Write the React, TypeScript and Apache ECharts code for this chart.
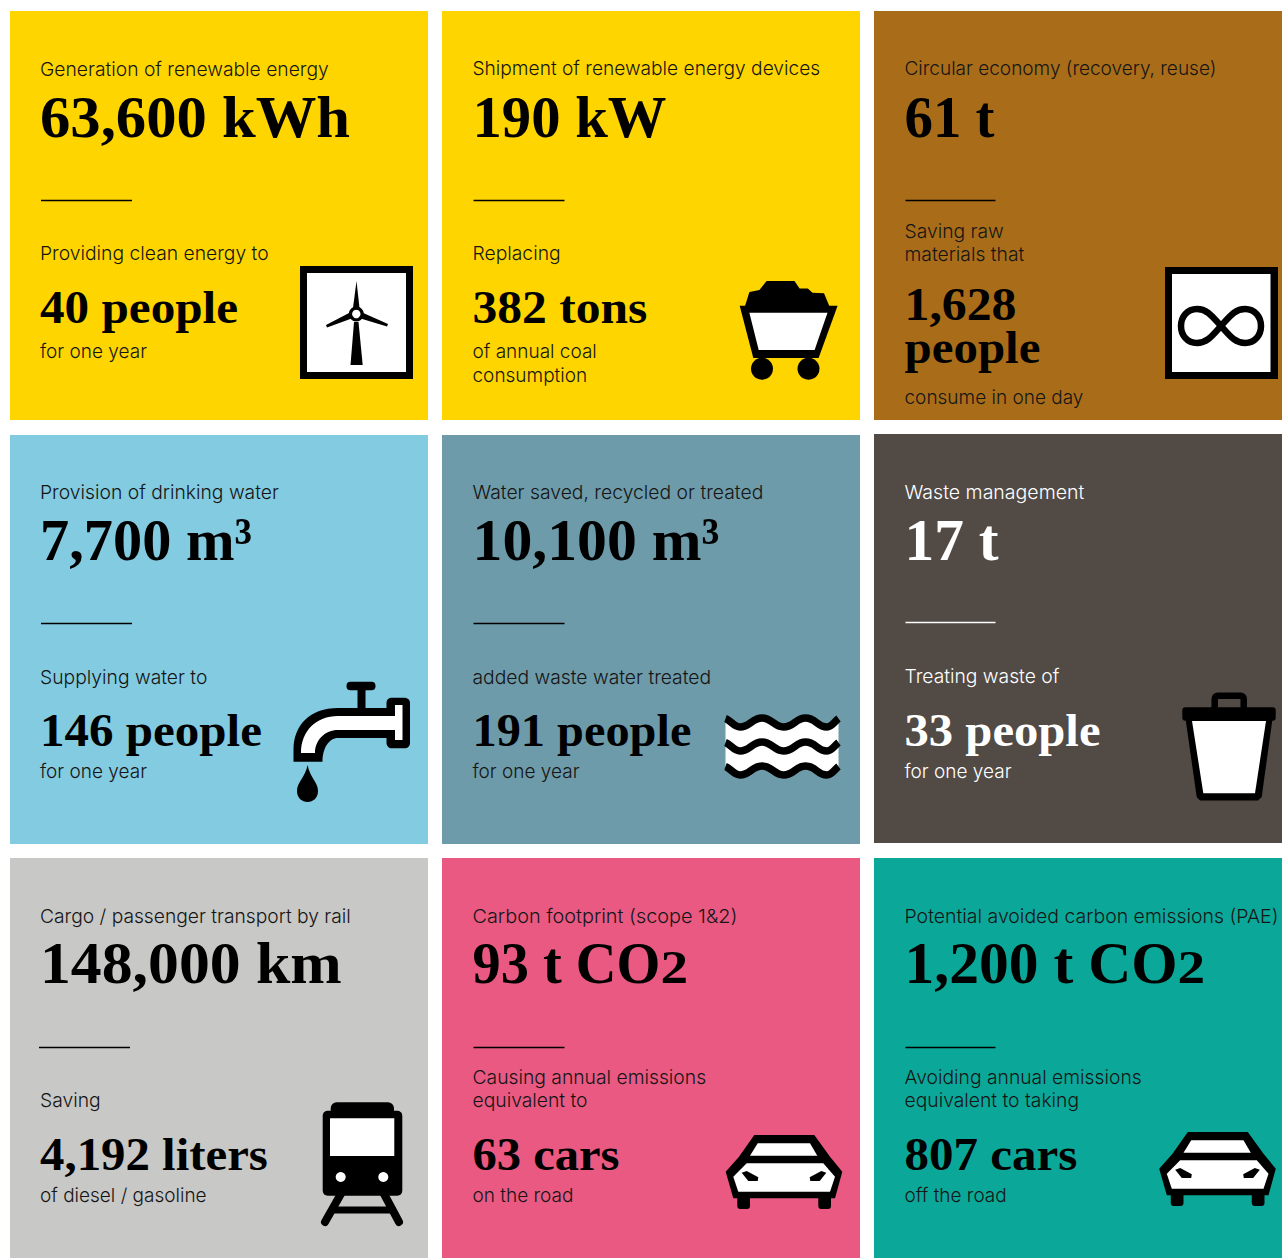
import React, { useEffect, useRef } from "react";
import * as echarts from "echarts";

// ---------- text content ----------
const titles = [
  "Generation of renewable energy", "Shipment of renewable energy devices", "Circular economy (recovery, reuse)",
  "Provision of drinking water", "Water saved, recycled or treated", "Waste management",
  "Cargo / passenger transport by rail", "Carbon footprint (scope 1&2)", "Potential avoided carbon emissions (PAE)",
];
const headlines = [
  "63,600 kWh", "190 kW", "61 t",
  "7,700 m³", "10,100 m³", "17 t",
  "148,000 km", "93 t CO2", "1,200 t CO2",
];
const leads = [
  ["Providing clean energy to"], ["Replacing"], ["Saving raw", "materials that"],
  ["Supplying water to"], ["added waste water treated"], ["Treating waste of"],
  ["Saving"], ["Causing annual emissions", "equivalent to"], ["Avoiding annual emissions", "equivalent to taking"],
];
const amounts = [
  ["40 people"], ["382 tons"], ["1,628", "people"],
  ["146 people"], ["191 people"], ["33 people"],
  ["4,192 liters"], ["63 cars"], ["807 cars"],
];
const tails = [
  ["for one year"], ["of annual coal", "consumption"], ["consume in one day"],
  ["for one year"], ["for one year"], ["for one year"],
  ["of diesel / gasoline"], ["on the road"], ["off the road"],
];

// ---------- layout and style ----------
const cardFills = ["#FFD500", "#FFD500", "#A96D1A", "#83CBE1", "#6D9BAA", "#524A45", "#C8C8C6", "#E95982", "#0BA899"];
const colX = [10, 442, 874];
const colW = [418, 418, 408];
const rowY = [11, 435, 858];
const rowH = [409, 409, 400];
const textX = [40, 472.5, 904.5];
const BODY = "Inter";
const SERIF = "Liberation Serif";
const BODY_SIZE = 19;
const LEAD_SIZE = 19.3;
const BODY_WEIGHT = 300;
// target pixel widths, used to fit the fallback fonts' proportions
const titleWidths = [289, 348, 312, 239, 291, 180, 311, 265, 374];
const headlineWidths = [310, 194, 90, 212, 247, 94, 302, 188, 273];
const amountWidths = [[198], [175], [112, 136], [222], [219], [196], [228], [147], [173]];
// y centres: title, headline, divider, last lead line, amount first, tail first
const ys = [
  [69, 116.5, 200.5, 253, 308, 351], [69, 116.5, 200.5, 253, 307.5, 351], [69, 116.5, 200.5, 254, 304, 397],
  [492, 540, 623.5, 677, 731, 771], [492, 540, 623.5, 677, 730.5, 771], [492, 540, 622.5, 676, 730.5, 771],
  [916, 963, 1047.5, 1100, 1154.5, 1195], [916, 963, 1047.5, 1100, 1154.5, 1195], [916, 963, 1047.5, 1100, 1154.5, 1195],
];

const canvasCtx = document.createElement("canvas").getContext("2d")!;
function fitScale(text: string, font: string, target: number) {
  canvasCtx.font = font;
  return target / canvasCtx.measureText(text).width;
}

// ---------- icons ----------
const tapOuter =
  "M293.5 761.7 V750 C293.5 725 310 708 338 708 H386.5 V703 C386.5 699.5 389 697.7 392 697.7 H404 C408 697.7 410 700 410 703 V743 C410 746 408 748.3 404 748.3 H392 C389 748.3 386.5 746 386.5 743 V738 H338 C329 738 322.5 748 322.5 761.7 Z";
const tapInner = "M301 753 C301 731 316 716 338 716 H395 V705 H402.5 V740 H395 V730 H338 C325 730 315 740 315 753 Z";
const tapDrop = "M307.6 765 C305 778 297 782 297 791 C297 798 302 802 307.6 802 C313 802 318 798 318 791 C318 782 310 778 307.6 765 Z";
const infinity =
  "M1221 326 C1212 316 1207 309 1197 309 C1187 309 1181 317 1181 326 C1181 335 1187 343 1197 343 C1207 343 1212 336 1221 326 C1230 316 1235 309 1245 309 C1255 309 1261 317 1261 326 C1261 335 1255 343 1245 343 C1235 343 1230 336 1221 326 Z";
const wave =
  "M725.5 718.5 C730 720 734 727 740 727 C750 727 752 718 762 718 C772 718 774 727 783.5 727 C794 727 795.5 718 805.5 718 C816 718 817 727 827 727 C832 727 835 721 838.5 718.5";
const waveFill =
  "M725.5 718.5 C730 720 734 727 740 727 C750 727 752 718 762 718 C772 718 774 727 783.5 727 C794 727 795.5 718 805.5 718 C816 718 817 727 827 727 C832 727 835 721 838.5 718.5 V766.5 C835 769 832 775 827 775 C817 775 816 766 805.5 766 C795.5 766 794 775 783.5 775 C774 775 772 766 762 766 C752 766 750 775 740 775 C734 775 730 768 725.5 766.5 Z";

echarts.graphic.registerShape("tapOuter", echarts.graphic.extendPath(tapOuter, {}));
echarts.graphic.registerShape("tapInner", echarts.graphic.extendPath(tapInner, {}));
echarts.graphic.registerShape("tapDrop", echarts.graphic.extendPath(tapDrop, {}));
echarts.graphic.registerShape("infinity", echarts.graphic.extendPath(infinity, {}));
echarts.graphic.registerShape("wave", echarts.graphic.extendPath(wave, {}));
echarts.graphic.registerShape("waveFill", echarts.graphic.extendPath(waveFill, {}));

const K = "#000";
const W = "#fff";
const rect = (x: number, y: number, w: number, h: number, fill: string, r = 0) => ({
  type: "rect", shape: { x, y, width: w, height: h, r }, style: { fill },
});
const poly = (pts: number[][], fill: string) => ({ type: "polygon", shape: { points: pts }, style: { fill } });
const circle = (cx: number, cy: number, r: number, fill: string) => ({ type: "circle", shape: { cx, cy, r }, style: { fill } });
const line = (x1: number, y1: number, x2: number, y2: number, stroke: string, lineWidth: number, lineCap = "butt") => ({
  type: "line", shape: { x1, y1, x2, y2 }, style: { stroke, lineWidth, lineCap },
});

const turbine = [
  rect(300, 266, 113, 113, K), rect(307, 273, 99, 99, W),
  poly([[353, 308], [356.5, 281], [359.5, 308]], K),
  poly([[326, 325], [351, 312], [353, 318], [327, 327.5]], K),
  poly([[388, 324], [361, 312], [359, 318], [387, 326.5]], K),
  poly([[354, 322], [358.5, 322], [362.7, 365], [350.5, 365]], K),
  circle(356.3, 314, 7.5, K), circle(356.3, 314, 4.2, W),
];
const cart = [
  poly([[745, 306], [749.4, 292], [759.4, 290], [766.6, 281], [794.5, 281], [799.6, 288.5], [807.8, 288.5], [812.5, 292.7], [824, 293.3], [829.3, 306]], K),
  poly([[739.7, 305.7], [837.6, 305.7], [818.6, 358], [753.3, 358]], K),
  poly([[749.4, 312.7], [827.5, 312.7], [814.6, 350], [758.7, 350]], W),
  circle(762, 368.7, 11, K), circle(808.5, 368.7, 11, K),
];
const infinityIcon = [
  rect(1165, 267, 113, 112, K), rect(1172, 274, 98.5, 98, W),
  { type: "infinity", style: { fill: "none", stroke: K, lineWidth: 6.5 } },
];
const tap = [
  rect(346.5, 681.7, 29, 8.5, K, 4), rect(357.5, 685, 8, 25, K),
  { type: "tapOuter", style: { fill: K } },
  { type: "tapInner", style: { fill: W } },
  { type: "tapDrop", style: { fill: K } },
];
const waves = [
  { type: "waveFill", style: { fill: W } },
  { type: "wave", x: 0, y: 0, style: { fill: "none", stroke: K, lineWidth: 7.5 } },
  { type: "wave", x: 0, y: 24, style: { fill: "none", stroke: K, lineWidth: 7.5 } },
  { type: "wave", x: 0, y: 48, style: { fill: "none", stroke: K, lineWidth: 7.5 } },
];
const bin = [
  { type: "rect", shape: { x: 1214.7, y: 695.7, width: 29, height: 18, r: 3 }, style: { fill: "none", stroke: K, lineWidth: 6.5 } },
  poly([[1185, 715], [1273, 715], [1261.7, 797], [1258, 800.5], [1200, 800.5], [1196.7, 797]], K),
  rect(1182.3, 707.3, 93.4, 13.4, K, 3),
  poly([[1192, 721], [1266, 721], [1255, 793.3], [1203.3, 793.3]], W),
];
const train = [
  line(342, 1192, 325, 1222, K, 8, "round"), line(383, 1192, 399, 1222, K, 8, "round"),
  line(333, 1210, 392, 1210, K, 7),
  rect(330.7, 1102.3, 63.3, 16, K, 6),
  rect(322.7, 1110.7, 79.6, 85, K, 5),
  rect(330, 1118.3, 64.3, 37.7, W),
  circle(340.7, 1177, 5, W), circle(383.3, 1177, 5, W),
];
const car = (dx: number, dy: number) => ({
  type: "group", x: dx, y: dy,
  children: [
    rect(737.3, 1192, 12.7, 17, K, 3), rect(818.3, 1192, 12.7, 17, K, 3),
    poly([[754.3, 1135], [814.3, 1135], [830, 1156.7], [842.3, 1171.7], [835, 1198.3], [733.3, 1198.3], [725.7, 1171.7], [739, 1156.7]], K),
    poly([[757.7, 1143.3], [810, 1143.3], [817.3, 1155.7], [750, 1155.7]], W),
    poly([[746.7, 1163.3], [823.3, 1163.3], [835, 1176.7], [830, 1191.7], [738.3, 1191.7], [733.3, 1176.7]], W),
    poly([[741.7, 1172.7], [746.7, 1171], [758.3, 1177.3], [757.7, 1181], [748.3, 1181]], K),
    poly([[826.3, 1172.7], [821.3, 1171], [809.7, 1177.3], [810.3, 1181], [819.7, 1181]], K),
  ],
});
const iconGroups: any[] = [turbine, cart, infinityIcon, tap, waves, bin, train, [car(0, 0)], [car(433.5, -3)]];

function text(str: string, x: number, y: number, fill: string, size: number, family: string, weight: number, scaleX = 1) {
  return {
    type: "text", x, y, scaleX, silent: true,
    style: { text: str, x: 0, y: 0, fill, fontSize: size, fontFamily: family, fontWeight: weight, align: "left", verticalAlign: "middle" },
  };
}

function buildElements() {
  const out: any[] = [];
  for (let i = 0; i < 9; i++) {
    const col = i % 3;
    const row = Math.floor(i / 3);
    const top = i === 5 ? rowY[row] - 1 : rowY[row];
    out.push(rect(colX[col], top, colW[col], rowH[row], cardFills[i]));
    const ink = i === 5 ? "#fff" : "#000";
    const soft = i === 5 ? "#fff" : "#151515";
    const tx = textX[col];
    const [yTitle, yHead, yRule, yLead, yAmt, yTail] = ys[i];
    const bodyFont = `${BODY_WEIGHT} ${BODY_SIZE}px "${BODY}"`;
    out.push(text(titles[i], tx, yTitle, soft, BODY_SIZE, BODY, BODY_WEIGHT, fitScale(titles[i], bodyFont, titleWidths[i])));

    // headline: a small lowered "2" follows the CO of the two carbon cards
    const hSize = 60;
    const font = `700 ${hSize}px "${SERIF}"`;
    const head = headlines[i];
    if (head.endsWith("CO2")) {
      const main = head.slice(0, -1);
      const w = headlineWidths[i];
      const s = fitScale(main, font, w);
      out.push(text(main, tx, yHead, ink, hSize, SERIF, 700, s));
      out.push(text("2", tx + w, yHead + 5, ink, 46, SERIF, 700, 1.2));
    } else {
      out.push(text(head, tx, yHead, ink, hSize, SERIF, 700, fitScale(head, font, headlineWidths[i])));
    }

    const ruleStart = row === 2 && col === 0 ? tx - 1 : tx + 1;
    out.push(line(ruleStart, yRule, ruleStart + (col === 2 ? 90 : 91), yRule, ink, 1.5));

    leads[i].forEach((l, k) => {
      out.push(text(l, tx, yLead - (leads[i].length - 1 - k) * 23, soft, LEAD_SIZE, BODY, BODY_WEIGHT));
    });
    amounts[i].forEach((a, k) => {
      const f = `700 46px "${SERIF}"`;
      out.push(text(a, tx, yAmt + k * 44, ink, 46, SERIF, 700, fitScale(a, f, amountWidths[i][k])));
    });
    tails[i].forEach((t, k) => {
      out.push(text(t, tx, yTail + k * 24, soft, BODY_SIZE, BODY, BODY_WEIGHT));
    });
    out.push({ type: "group", silent: true, children: iconGroups[i] });
  }
  return out;
}

export default function App() {
  const ref = useRef<HTMLDivElement>(null);
  useEffect(() => {
    const chart = echarts.init(ref.current!, undefined, { renderer: "svg" });
    chart.setOption({ animation: false, graphic: { elements: buildElements() } });
    return () => chart.dispose();
  }, []);
  return <div ref={ref} style={{ position: "absolute", left: 0, top: 0, width: 1282, height: 1258 }} />;
}
